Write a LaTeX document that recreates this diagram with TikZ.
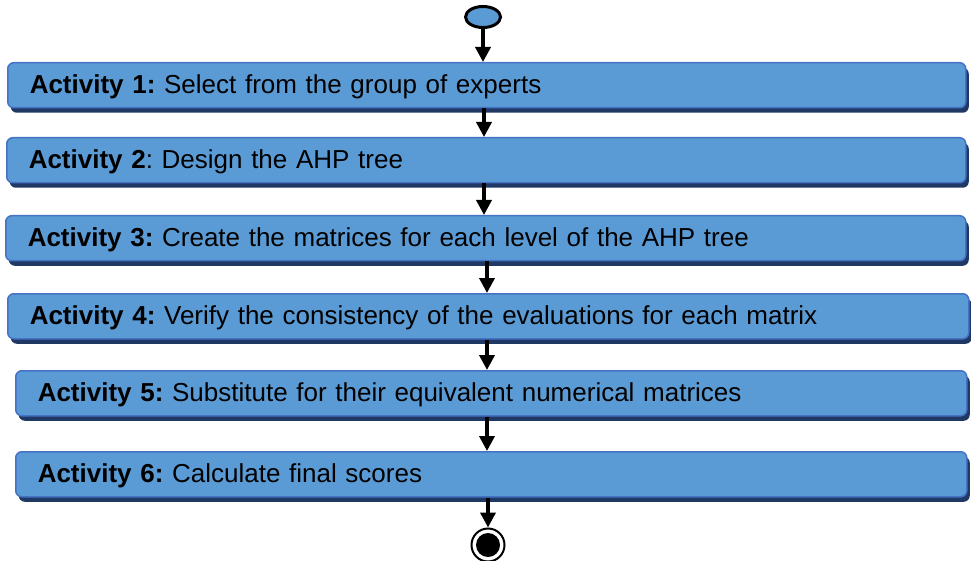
\documentclass[tikz,border=0pt]{standalone}
\usepackage{fontspec}
\setmainfont{Liberation Sans}
\usetikzlibrary{arrows.meta,shapes.geometric,shadows}
\definecolor{boxfill}{HTML}{5B9BD5}
\definecolor{boxedge}{HTML}{4472C4}
\definecolor{boxshadow}{HTML}{203864}
\tikzset{
  actbox/.style={draw=boxedge, line width=1.5pt, fill=boxfill, rounded corners=6pt,
    minimum height=45pt, anchor=north west, inner xsep=22pt, inner ysep=0pt, align=left,
    text height=31pt, text depth=14pt,
    font=\fontsize{26pt}{30pt}\selectfont\frenchspacing,
    drop shadow={shadow xshift=3pt, shadow yshift=-5pt, fill=boxshadow, opacity=1}},
  arr/.style={line width=3.6pt, -{Triangle[width=15pt,length=15pt]}},
}
\begin{document}
\begin{tikzpicture}[x=1pt,y=-1pt]
\useasboundingbox (0,0) rectangle (971,561);
\node[ellipse, draw=black, line width=3pt, fill=boxfill, minimum width=35pt, minimum height=21pt, inner sep=0pt] (start) at (483,17) {};
\node[actbox, minimum width=958pt, text width=914pt] (b1) at (7,62) {\textbf{Activity 1:} Select from the group of experts};
\node[actbox, minimum width=959pt, text width=915pt] (b2) at (6,137) {\textbf{Activity 2}: Design the AHP tree};
\node[actbox, minimum width=960pt, text width=916pt] (b3) at (5,215) {\textbf{Activity 3:} Create the matrices for each level of the AHP tree};
\node[actbox, minimum width=961pt, text width=917pt] (b4) at (7,293) {\textbf{Activity 4:} Verify the consistency of the evaluations for each matrix};
\node[actbox, minimum width=951pt, text width=907pt] (b5) at (15,370) {\textbf{Activity 5:} Substitute for their equivalent numerical matrices};
\node[actbox, minimum width=951pt, text width=907pt] (b6) at (15,451) {\textbf{Activity 6:} Calculate final scores};
\node[circle, draw=black, line width=2pt, fill=white, minimum size=33pt, inner sep=0pt] (endo) at (488,545) {};
\node[circle, fill=black, minimum size=24pt, inner sep=0pt] (endi) at (endo.center) {};
\coordinate (x1) at (484,0);
\coordinate (x2) at (484,0);
\coordinate (x3) at (487,0);
\coordinate (x4) at (487,0);
\coordinate (x5) at (487,0);
\coordinate (x6) at (488,0);
\draw[arr] (start.south) -- (start.south |- b1.north);
\draw[arr] (b1.south -| x1) -- (b2.north -| x1);
\draw[arr] (b2.south -| x2) -- (b3.north -| x2);
\draw[arr] (b3.south -| x3) -- (b4.north -| x3);
\draw[arr] (b4.south -| x4) -- (b5.north -| x4);
\draw[arr] (b5.south -| x5) -- (b6.north -| x5);
\draw[arr] (b6.south -| x6) -- (endo.north);
\end{tikzpicture}
\end{document}
